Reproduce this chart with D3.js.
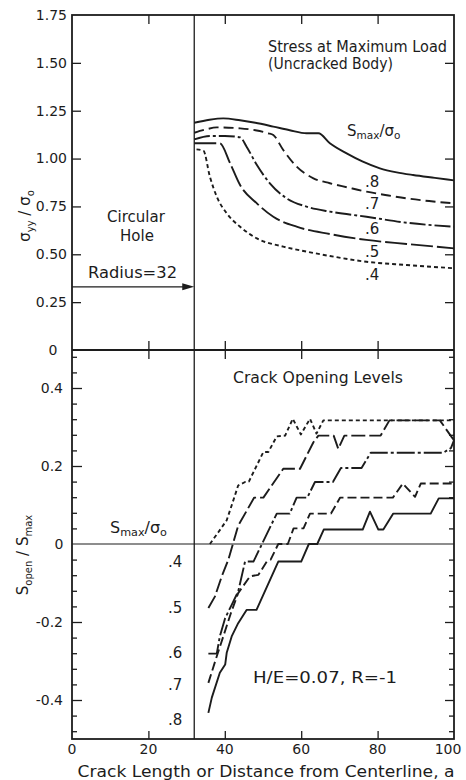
<!DOCTYPE html>
<html>
<head>
<meta charset="utf-8">
<script src="https://cdn.jsdelivr.net/npm/d3@7"></script>
<style>
  html, body { margin: 0; padding: 0; background: #fff; }
  svg { display: block; }
  text { font-family: "DejaVu Sans", sans-serif; fill: #1c1c1c; }
</style>
</head>
<body>
<svg id="chart" width="466" height="780"></svg>
<script>
// ---- axis ticks ----
const crackTicks = [0, 20, 40, 60, 80, 100];
const crackTickLabels = ["0", "20", "40", "60", "80", "100"];
const stressTicks = [0, 0.25, 0.5, 0.75, 1.0, 1.25, 1.5, 1.75];
const stressTickLabels = ["0", "0.25", "0.50", "0.75", "1.00", "1.25", "1.50", "1.75"];
const openTicks = [-0.4, -0.2, 0, 0.2, 0.4];
const openTickLabels = ["-0.4", "-0.2", "0", "0.2", "0.4"];
const openMinorTicks = [-0.48, -0.44, -0.36, -0.32, -0.28, -0.24, -0.16, -0.12, -0.08, -0.04,
                        0.04, 0.08, 0.12, 0.16, 0.24, 0.28, 0.32, 0.36, 0.44, 0.48];
const holeRadius = 32;
const smaxLevels = [".8", ".7", ".6", ".5", ".4"];

// ---- stress ahead of the hole at maximum load, sigma_yy / sigma_o  [a, value] ----
const stress08 = [[32, 1.187], [36, 1.203], [39.6, 1.21], [44, 1.2], [48, 1.187], [52.7, 1.167], [57, 1.148],
                  [61.4, 1.132], [64.5, 1.132], [67.5, 1.08], [71.9, 1.027], [76, 0.985], [80.6, 0.949],
                  [85, 0.928], [89.3, 0.914], [95, 0.899], [100, 0.886]];
const stress07 = [[32, 1.135], [35, 1.152], [37.9, 1.163], [44, 1.158], [48, 1.148], [51.4, 1.132], [52.7, 1.123],
                  [55.3, 1.045], [58.8, 0.958], [63.2, 0.897], [67.5, 0.871], [72, 0.85], [77.1, 0.827],
                  [82, 0.81], [87.6, 0.792], [93.5, 0.778], [100, 0.766]];
const stress06 = [[32, 1.10], [36.1, 1.118], [40, 1.118], [44, 1.111], [45.7, 1.062], [48.4, 0.966], [51.8, 0.871],
                  [56.2, 0.792], [61.4, 0.749], [67.5, 0.723], [77.1, 0.696], [87.6, 0.665], [100, 0.644]];
const stress05 = [[32, 1.08], [38.7, 1.08], [41.4, 0.975], [44, 0.862], [48.4, 0.766], [52.7, 0.696],
                  [58.8, 0.644], [67.5, 0.606], [77.1, 0.575], [87.6, 0.554], [100, 0.531]];
const stress04 = [[32.6, 1.048], [34.4, 1.041], [36.1, 0.905], [37.9, 0.801], [40.5, 0.714], [44, 0.644],
                  [48.4, 0.583], [55.3, 0.540], [61.4, 0.514], [67.5, 0.491], [77.1, 0.461], [87.6, 0.444],
                  [100, 0.427]];

// ---- crack opening levels, S_open / S_max  [a, value] ----
const open04 = [[36.1, 0], [38.3, 0.03], [40.5, 0.061], [42, 0.105], [43.5, 0.15], [45.3, 0.159], [46.3, 0.16],
                [50.1, 0.236], [51.4, 0.236], [53.6, 0.276], [55.8, 0.278], [57.8, 0.321], [59.9, 0.281],
                [62.3, 0.321], [64.0, 0.283], [65.8, 0.317], [100, 0.317]];
const open05 = [[35.7, -0.164], [37.4, -0.135], [39.2, -0.083], [40.9, -0.041], [41.8, -0.011], [43.5, 0.047],
                [47.7, 0.119], [50.1, 0.119], [55.3, 0.193], [59.7, 0.193], [63.2, 0.261], [64.5, 0.278],
                [68.5, 0.278], [69.7, 0.244], [71.3, 0.278], [80.8, 0.278], [83.1, 0.317], [96.3, 0.317],
                [99.4, 0.274], [100, 0.266]];
const open06 = [[35.7, -0.281], [37.9, -0.281], [38.7, -0.237], [40.1, -0.19], [41.8, -0.156], [43.5, -0.122],
                [45.3, -0.045], [47.5, -0.045], [53.6, 0.078], [57.0, 0.078], [58.8, 0.119], [61.6, 0.119],
                [63.6, 0.159], [68.3, 0.159], [70.4, 0.195], [75.8, 0.195], [78.2, 0.234], [97.2, 0.234],
                [99.2, 0.246], [100, 0.266]];
const open07 = [[35.7, -0.356], [37.5, -0.30], [39.5, -0.24], [41.5, -0.18], [43.5, -0.126], [46.6, -0.083],
                [48.8, -0.079], [51, -0.045], [52, -0.04], [54, 0], [56.5, 0], [58, 0.04], [60.6, 0.04],
                [62.3, 0.078], [67.8, 0.078], [70.2, 0.119], [84, 0.119], [86.6, 0.155], [89.8, 0.121],
                [91.3, 0.155], [100, 0.155]];
const open08 = [[35.7, -0.433], [36.6, -0.394], [38.7, -0.33], [40.1, -0.309], [40.5, -0.279], [41.8, -0.237],
                [43.5, -0.203], [45.7, -0.169], [48.3, -0.169], [54.0, -0.045], [60.0, -0.045], [62.0, 0],
                [64.2, 0], [65.9, 0.037], [76.1, 0.037], [78.0, 0.083], [80.2, 0.037], [81.5, 0.037],
                [84.1, 0.078], [93.9, 0.078], [96.0, 0.117], [100, 0.117]];

const stressSeries = [
  { key: ".8", data: stress08, dash: null },
  { key: ".7", data: stress07, dash: "10,5" },
  { key: ".6", data: stress06, dash: "16,3,3,3" },
  { key: ".5", data: stress05, dash: "22,4" },
  { key: ".4", data: stress04, dash: "4,3" }
];
const openSeries = [
  { key: ".4", data: open04, dash: "4,3" },
  { key: ".5", data: open05, dash: "14,4" },
  { key: ".6", data: open06, dash: "18,3,3,3" },
  { key: ".7", data: open07, dash: "9,4" },
  { key: ".8", data: open08, dash: null }
];

// ---- layout ----
const svg = d3.select("#chart");
const ink = "#1c1c1c";

const x = d3.scaleLinear().domain([0, 100]).range([72, 454]);
const yTop = d3.scaleLinear().domain([0, 1.75]).range([350, 15]);
const yBot = d3.scaleLinear().domain([-0.5, 0.5]).range([739, 349]);

// frame
const frame = svg.append("g").attr("fill", "none").attr("stroke", ink);
frame.append("rect").attr("x", x(0)).attr("y", yTop(1.75))
  .attr("width", x(100) - x(0)).attr("height", yBot(-0.5) - yTop(1.75))
  .attr("stroke-width", 1.8);
frame.append("line").attr("x1", x(0)).attr("x2", x(100))
  .attr("y1", yTop(0)).attr("y2", yTop(0)).attr("stroke-width", 1.8);
// edge of the circular hole
frame.append("line").attr("x1", x(holeRadius)).attr("x2", x(holeRadius))
  .attr("y1", yTop(1.75)).attr("y2", yBot(-0.5)).attr("stroke-width", 1.3);
// zero opening level
frame.append("line").attr("x1", x(0)).attr("x2", x(100))
  .attr("y1", yBot(0)).attr("y2", yBot(0)).attr("stroke-width", 1.2);

// ticks via d3 axes (inward), labels drawn separately
function tickAxis(axis, transform) {
  const g = svg.append("g").attr("transform", transform).call(axis);
  g.select(".domain").remove();
  g.selectAll(".tick line").attr("stroke", ink).attr("stroke-width", 1.3);
  g.selectAll(".tick text").remove();
  return g;
}
const innerX = crackTicks.filter(d => d > 0 && d < 100);
tickAxis(d3.axisTop(x).tickValues(innerX).tickSize(-9), `translate(0,${yTop(1.75)})`);
tickAxis(d3.axisTop(x).tickValues(innerX).tickSize(9), `translate(0,${yTop(0)})`);
tickAxis(d3.axisTop(x).tickValues(innerX).tickSize(-9), `translate(0,${yTop(0)})`);
tickAxis(d3.axisBottom(x).tickValues(innerX).tickSize(-8), `translate(0,${yBot(-0.5)})`);

const innerStress = stressTicks.filter(d => d > 0 && d < 1.75);
tickAxis(d3.axisLeft(yTop).tickValues(innerStress).tickSize(-9), `translate(${x(0)},0)`);
tickAxis(d3.axisRight(yTop).tickValues(innerStress).tickSize(-9), `translate(${x(100)},0)`);

const openMajor = openTicks.filter(d => d !== 0);
tickAxis(d3.axisLeft(yBot).tickValues(openMajor).tickSize(-10), `translate(${x(0)},0)`);
tickAxis(d3.axisLeft(yBot).tickValues(openMinorTicks).tickSize(-5), `translate(${x(0)},0)`);
tickAxis(d3.axisRight(yBot).tickValues(openMajor).tickSize(-9), `translate(${x(100)},0)`);
tickAxis(d3.axisRight(yBot).tickValues(openMinorTicks).tickSize(-5), `translate(${x(100)},0)`);

// tick labels
const labels = svg.append("g").attr("font-size", 14);
labels.selectAll(".sl").data(stressTicks).join("text")
  .attr("x", d => d === 0 ? 53 : 67)
  .attr("y", d => yTop(d))
  .attr("dy", "0.35em")
  .attr("text-anchor", d => d === 0 ? "middle" : "end")
  .text((d, i) => stressTickLabels[i]);
labels.selectAll(".ol").data(openTicks).join("text")
  .attr("x", d => d === 0 ? 59 : 63)
  .attr("y", d => yBot(d))
  .attr("dy", "0.35em")
  .attr("text-anchor", d => d === 0 ? "middle" : "end")
  .text((d, i) => openTickLabels[i]);
labels.selectAll(".xl").data(crackTicks).join("text")
  .attr("x", d => x(d) + (d === 100 ? -6 : 0))
  .attr("y", 754)
  .attr("text-anchor", "middle")
  .text((d, i) => crackTickLabels[i]);

// axis titles
svg.append("text")
  .attr("x", 266).attr("y", 777).attr("font-size", 15.5)
  .attr("text-anchor", "middle")
  .attr("textLength", 377).attr("lengthAdjust", "spacingAndGlyphs")
  .text("Crack Length or Distance from Centerline, a");

const yt1 = svg.append("text").attr("font-size", 15)
  .attr("transform", "translate(30,216) rotate(-90)").attr("text-anchor", "middle");
yt1.append("tspan").text("σ");
yt1.append("tspan").attr("font-size", 10).attr("dy", 4).text("yy");
yt1.append("tspan").attr("dy", -4).text(" / σ");
yt1.append("tspan").attr("font-size", 10).attr("dy", 4).text("o");

const yt2 = svg.append("text").attr("font-size", 15)
  .attr("transform", "translate(28,555) rotate(-90)").attr("text-anchor", "middle");
yt2.append("tspan").text("S");
yt2.append("tspan").attr("font-size", 10).attr("dy", 4).text("open");
yt2.append("tspan").attr("dy", -4).text(" / S");
yt2.append("tspan").attr("font-size", 10).attr("dy", 4).text("max");

// ---- curves ----
const lineTop = d3.line().x(d => x(d[0])).y(d => yTop(d[1])).curve(d3.curveMonotoneX);
const lineBot = d3.line().x(d => x(d[0])).y(d => yBot(d[1])).curve(d3.curveLinear);

svg.append("g").selectAll("path").data(stressSeries).join("path")
  .attr("d", d => lineTop(d.data))
  .attr("fill", "none").attr("stroke", ink).attr("stroke-width", 1.9)
  .attr("stroke-dasharray", d => d.dash);

svg.append("g").selectAll("path").data(openSeries).join("path")
  .attr("d", d => lineBot(d.data))
  .attr("fill", "none").attr("stroke", ink).attr("stroke-width", 1.9)
  .attr("stroke-linejoin", "round")
  .attr("stroke-dasharray", d => d.dash);

// ---- annotations ----
const ann = svg.append("g").attr("font-size", 15);
ann.append("text").attr("x", 268).attr("y", 52)
  .attr("textLength", 179).attr("lengthAdjust", "spacingAndGlyphs").text("Stress at Maximum Load");
ann.append("text").attr("x", 268).attr("y", 69)
  .attr("textLength", 125).attr("lengthAdjust", "spacingAndGlyphs").text("(Uncracked Body)");
ann.append("text").attr("x", 233).attr("y", 383)
  .attr("textLength", 170).attr("lengthAdjust", "spacingAndGlyphs").text("Crack Opening Levels");
ann.append("text").attr("x", 253).attr("y", 683)
  .attr("textLength", 144).attr("lengthAdjust", "spacingAndGlyphs").text("H/E=0.07, R=-1");
ann.append("text").attr("x", 136).attr("y", 222).attr("text-anchor", "middle").text("Circular");
ann.append("text").attr("x", 137).attr("y", 241).attr("text-anchor", "middle").text("Hole");
ann.append("text").attr("x", 88).attr("y", 278)
  .attr("textLength", 89).attr("lengthAdjust", "spacingAndGlyphs").text("Radius=32");

// radius arrow
const arrowY = yTop(0.33);
svg.append("line").attr("x1", x(0)).attr("x2", x(holeRadius) - 8)
  .attr("y1", arrowY).attr("y2", arrowY).attr("stroke", ink).attr("stroke-width", 1.3);
svg.append("path")
  .attr("d", `M${x(holeRadius)},${arrowY} L${x(holeRadius) - 12},${arrowY - 3.5} L${x(holeRadius) - 12},${arrowY + 3.5} Z`)
  .attr("fill", ink);

// S_max / sigma_o legend headings
function smaxHeading(px, py, size) {
  const t = svg.append("text").attr("x", px).attr("y", py).attr("font-size", size);
  t.append("tspan").text("S");
  t.append("tspan").attr("font-size", size * 0.7).attr("dy", 3).text("max");
  t.append("tspan").attr("dy", -3).text("/σ");
  t.append("tspan").attr("font-size", size * 0.7).attr("dy", 3).text("o");
}
smaxHeading(347, 136, 15);
smaxHeading(110, 533, 16);

// level labels beside the curves
const topLabelPos = [0.878, 0.763, 0.632, 0.512, 0.392];
svg.append("g").attr("font-size", 15).selectAll("text").data(smaxLevels).join("text")
  .attr("x", x(76.7)).attr("y", (d, i) => yTop(topLabelPos[i])).attr("dy", "0.35em")
  .text(d => d);
const botLabelPos = [-0.45, -0.36, -0.278, -0.163, -0.046];
svg.append("g").attr("font-size", 15).selectAll("text").data(smaxLevels).join("text")
  .attr("x", x(27)).attr("y", (d, i) => yBot(botLabelPos[i])).attr("dy", "0.35em")
  .attr("text-anchor", "middle")
  .text(d => d);
</script>
</body>
</html>
